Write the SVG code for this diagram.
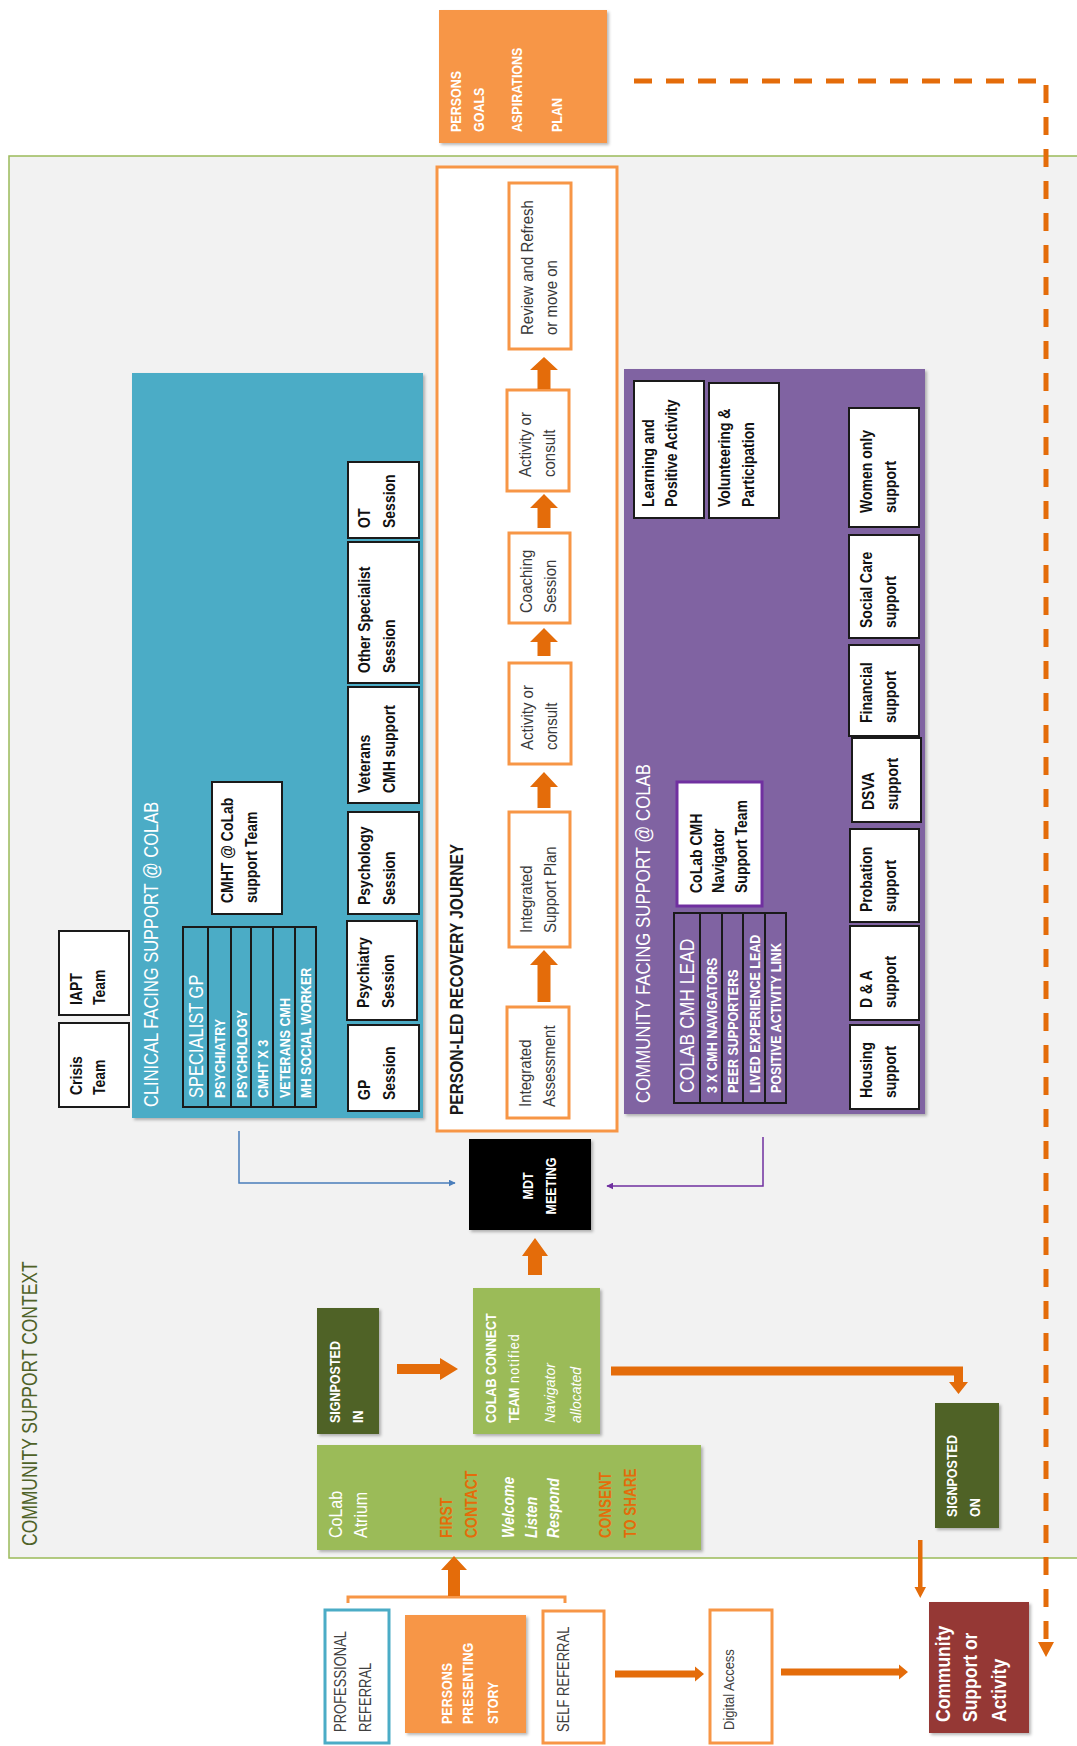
<svg xmlns="http://www.w3.org/2000/svg" width="1077" height="1746" viewBox="0 0 1077 1746">
<defs>
<filter id="sh" x="-10%" y="-10%" width="125%" height="125%">
<feDropShadow dx="2" dy="2" stdDeviation="1.8" flood-color="#000" flood-opacity="0.28"/>
</filter>
<marker id="mb" viewBox="0 0 10 10" refX="9" refY="5" markerWidth="7" markerHeight="7" markerUnits="userSpaceOnUse" orient="auto"><path d="M0,0 L10,5 L0,10 z" fill="#4a7ebb"/></marker>
<marker id="mp" viewBox="0 0 10 10" refX="9" refY="5" markerWidth="7" markerHeight="7" markerUnits="userSpaceOnUse" orient="auto"><path d="M0,0 L10,5 L0,10 z" fill="#7030a0"/></marker>
</defs>
<style>
text{font-family:"Liberation Sans",Arial,sans-serif}
.w{fill:#fff}
.b{font-weight:bold}
.i{font-style:italic}
.lbl{font-size:14px;font-weight:bold;fill:#111}
.rj{font-size:15px;fill:#3a3a3a}
.tb{font-size:12.5px;font-weight:bold;fill:#fff}
.bx{fill:#fff;stroke:#1a1a1a;stroke-width:2}
.ob{fill:#fff;stroke:#f79646;stroke-width:3}
.arr{fill:#e46c0a}
.ref{font-size:13px;fill:#404040}
</style>
<rect width="1077" height="1746" fill="#fff"/>

<g id="context">
<rect x="9" y="156" width="1090" height="1402" fill="#f2f2f2" stroke="#9bbb59" stroke-width="1.5"/>
<text transform="translate(37 1546) rotate(-90) scale(1 1.3)" font-size="17.5" fill="#4f6228">COMMUNITY SUPPORT CONTEXT</text>
</g>

<g id="goals">
<rect x="439" y="10" width="168" height="133" fill="#f79646" filter="url(#sh)"/>
<text class="tb" transform="translate(461 132) rotate(-90) scale(1 1.2)">PERSONS</text>
<text class="tb" transform="translate(484 132) rotate(-90) scale(1 1.2)">GOALS</text>
<text class="tb" transform="translate(522 132) rotate(-90) scale(1 1.2)">ASPIRATIONS</text>
<text class="tb" transform="translate(562 132) rotate(-90) scale(1 1.2)">PLAN</text>
</g>

<g id="clinical">
<rect x="132" y="373" width="291" height="745" fill="#4bacc6" filter="url(#sh)"/>
<text class="w" transform="translate(158 1107) rotate(-90) scale(1 1.2)" font-size="16.5">CLINICAL FACING SUPPORT @ COLAB</text>
<g id="specialist-gp">
<rect x="183" y="927" width="133" height="180" fill="none" stroke="#1a1a1a" stroke-width="2"/>
<path d="M208 927V1107M231 927V1107M251 927V1107M273 927V1107M295 927V1107" stroke="#1a1a1a" stroke-width="2"/>
<text class="w" transform="translate(202.5 1098) rotate(-90) scale(1 1.2)" font-size="16.5">SPECIALIST GP</text>
<text class="tb" transform="translate(224.5 1098) rotate(-90) scale(1 1.2)">PSYCHIATRY</text>
<text class="tb" transform="translate(246.5 1098) rotate(-90) scale(1 1.2)">PSYCHOLOGY</text>
<text class="tb" transform="translate(267.5 1098) rotate(-90) scale(1 1.2)">CMHT X 3</text>
<text class="tb" transform="translate(289.5 1098) rotate(-90) scale(1 1.2)">VETERANS  CMH</text>
<text class="tb" transform="translate(311 1098) rotate(-90) scale(1 1.2)">MH SOCIAL WORKER</text>
</g>
<g id="cmht">
<rect class="bx" x="212" y="782" width="70" height="132"/>
<text class="lbl" transform="translate(233 903) rotate(-90) scale(1 1.2)">CMHT @ CoLab</text>
<text class="lbl" transform="translate(257 903) rotate(-90) scale(1 1.2)">support Team</text>
</g>
<g id="ot"><rect class="bx" x="348" y="462" width="71" height="76"/>
<text class="lbl" transform="translate(370 528) rotate(-90) scale(1 1.2)">OT</text>
<text class="lbl" transform="translate(395 528) rotate(-90) scale(1 1.2)">Session</text></g>
<g id="other"><rect class="bx" x="348" y="542" width="71" height="141"/>
<text class="lbl" transform="translate(370 673) rotate(-90) scale(1 1.2)">Other Specialist</text>
<text class="lbl" transform="translate(395 673) rotate(-90) scale(1 1.2)">Session</text></g>
<g id="veterans"><rect class="bx" x="348" y="687" width="71" height="116"/>
<text class="lbl" transform="translate(370 793) rotate(-90) scale(1 1.2)">Veterans</text>
<text class="lbl" transform="translate(395 793) rotate(-90) scale(1 1.2)">CMH support</text></g>
<g id="psychology"><rect class="bx" x="348" y="812" width="71" height="102"/>
<text class="lbl" transform="translate(370 905) rotate(-90) scale(1 1.2)">Psychology</text>
<text class="lbl" transform="translate(395 905) rotate(-90) scale(1 1.2)">Session</text></g>
<g id="psychiatry"><rect class="bx" x="347" y="921" width="70" height="99"/>
<text class="lbl" transform="translate(369 1008) rotate(-90) scale(1 1.2)">Psychiatry</text>
<text class="lbl" transform="translate(394 1008) rotate(-90) scale(1 1.2)">Session</text></g>
<g id="gp"><rect class="bx" x="348" y="1025" width="71" height="86"/>
<text class="lbl" transform="translate(370 1100) rotate(-90) scale(1 1.2)">GP</text>
<text class="lbl" transform="translate(395 1100) rotate(-90) scale(1 1.2)">Session</text></g>
</g>

<g id="crisis"><rect class="bx" x="59" y="1023" width="70" height="84"/>
<text class="lbl" transform="translate(82 1095) rotate(-90) scale(1 1.2)">Crisis</text>
<text class="lbl" transform="translate(105 1095) rotate(-90) scale(1 1.2)">Team</text></g>
<g id="iapt"><rect class="bx" x="59" y="931" width="70" height="84"/>
<text class="lbl" transform="translate(82 1005) rotate(-90) scale(1 1.2)">IAPT</text>
<text class="lbl" transform="translate(105 1005) rotate(-90) scale(1 1.2)">Team</text></g>

<g id="recovery">
<rect x="437" y="167" width="180" height="964" fill="#fff" stroke="#f79646" stroke-width="3"/>
<text transform="translate(463 1115) rotate(-90) scale(1 1.2)" font-size="15.5" font-weight="bold" fill="#1a1a1a">PERSON-LED RECOVERY JOURNEY</text>
<g id="review"><rect class="ob" x="509" y="183" width="62" height="166"/>
<text class="rj" transform="translate(533 335) rotate(-90) scale(1 1.1)">Review and Refresh</text>
<text class="rj" transform="translate(557 335) rotate(-90) scale(1 1.1)">or move on</text></g>
<g id="activity1"><rect class="ob" x="507" y="390" width="62" height="101"/>
<text class="rj" transform="translate(531 477) rotate(-90) scale(1 1.1)">Activity or</text>
<text class="rj" transform="translate(555 477) rotate(-90) scale(1 1.1)">consult</text></g>
<g id="coaching"><rect class="ob" x="509" y="533" width="61" height="90"/>
<text class="rj" transform="translate(532 613) rotate(-90) scale(1 1.1)">Coaching</text>
<text class="rj" transform="translate(556 613) rotate(-90) scale(1 1.1)">Session</text></g>
<g id="activity2"><rect class="ob" x="509" y="663" width="62" height="101"/>
<text class="rj" transform="translate(533 750) rotate(-90) scale(1 1.1)">Activity or</text>
<text class="rj" transform="translate(557 750) rotate(-90) scale(1 1.1)">consult</text></g>
<g id="support-plan"><rect class="ob" x="509" y="812" width="61" height="135"/>
<text class="rj" transform="translate(532 933) rotate(-90) scale(1 1.1)">Integrated</text>
<text class="rj" transform="translate(556 933) rotate(-90) scale(1 1.1)">Support Plan</text></g>
<g id="assessment"><rect class="ob" x="507" y="1007" width="62" height="111"/>
<text class="rj" transform="translate(531 1107) rotate(-90) scale(1 1.1)">Integrated</text>
<text class="rj" transform="translate(555 1107) rotate(-90) scale(1 1.1)">Assessment</text></g>
</g>

<g id="community">
<rect x="624" y="369" width="301" height="745" fill="#8064a2" filter="url(#sh)"/>
<text class="w" transform="translate(650 1103) rotate(-90) scale(1 1.2)" font-size="16.8">COMMUNITY FACING SUPPORT @ COLAB</text>
<g id="learning"><rect class="bx" x="634" y="381" width="70" height="137"/>
<text class="lbl" transform="translate(654 507) rotate(-90) scale(1 1.2)">Learning and</text>
<text class="lbl" transform="translate(677 507) rotate(-90) scale(1 1.2)">Positive Activity</text></g>
<g id="volunteering"><rect class="bx" x="709" y="383" width="70" height="135"/>
<text class="lbl" transform="translate(730 507) rotate(-90) scale(1 1.2)">Volunteering &amp;</text>
<text class="lbl" transform="translate(754 507) rotate(-90) scale(1 1.2)">Participation</text></g>
<g id="women"><rect class="bx" x="849" y="408" width="70" height="119"/>
<text class="lbl" transform="translate(872 513) rotate(-90) scale(1 1.2)">Women only</text>
<text class="lbl" transform="translate(896 513) rotate(-90) scale(1 1.2)">support</text></g>
<g id="social"><rect class="bx" x="849" y="535" width="70" height="103"/>
<text class="lbl" transform="translate(872 628) rotate(-90) scale(1 1.2)">Social Care</text>
<text class="lbl" transform="translate(896 628) rotate(-90) scale(1 1.2)">support</text></g>
<g id="financial"><rect class="bx" x="849" y="645" width="70" height="91"/>
<text class="lbl" transform="translate(872 723) rotate(-90) scale(1 1.2)">Financial</text>
<text class="lbl" transform="translate(896 723) rotate(-90) scale(1 1.2)">support</text></g>
<g id="dsva"><rect class="bx" x="852" y="738" width="69" height="84"/>
<text class="lbl" transform="translate(874 810) rotate(-90) scale(1 1.2)">DSVA</text>
<text class="lbl" transform="translate(898 810) rotate(-90) scale(1 1.2)">support</text></g>
<g id="probation"><rect class="bx" x="850" y="829" width="69" height="93"/>
<text class="lbl" transform="translate(872 912) rotate(-90) scale(1 1.2)">Probation</text>
<text class="lbl" transform="translate(896 912) rotate(-90) scale(1 1.2)">support</text></g>
<g id="da"><rect class="bx" x="850" y="926" width="69" height="94"/>
<text class="lbl" transform="translate(872 1008) rotate(-90) scale(1 1.2)">D &amp; A</text>
<text class="lbl" transform="translate(896 1008) rotate(-90) scale(1 1.2)">support</text></g>
<g id="housing"><rect class="bx" x="850" y="1025" width="69" height="84"/>
<text class="lbl" transform="translate(872 1098) rotate(-90) scale(1 1.2)">Housing</text>
<text class="lbl" transform="translate(896 1098) rotate(-90) scale(1 1.2)">support</text></g>
<g id="navigator-team"><rect x="677" y="782" width="85" height="124" fill="#fff" stroke="#7030a0" stroke-width="3"/>
<text class="lbl" transform="translate(702 893) rotate(-90) scale(1 1.2)">CoLab CMH</text>
<text class="lbl" transform="translate(724 893) rotate(-90) scale(1 1.2)">Navigator</text>
<text class="lbl" transform="translate(747 893) rotate(-90) scale(1 1.2)">Support Team</text></g>
<g id="cmh-lead">
<rect x="674" y="913" width="112" height="190" fill="none" stroke="#1a1a1a" stroke-width="2"/>
<path d="M700 913V1103M722 913V1103M743 913V1103M765 913V1103" stroke="#1a1a1a" stroke-width="2"/>
<text class="w" transform="translate(694 1093) rotate(-90) scale(1 1.2)" font-size="17.5">COLAB CMH LEAD</text>
<text class="tb" transform="translate(716.5 1093) rotate(-90) scale(1 1.2)">3 X CMH NAVIGATORS</text>
<text class="tb" transform="translate(737.5 1093) rotate(-90) scale(1 1.2)">PEER  SUPPORTERS</text>
<text class="tb" transform="translate(759.5 1093) rotate(-90) scale(1 1.2)">LIVED  EXPERIENCE  LEAD</text>
<text class="tb" transform="translate(780.5 1093) rotate(-90) scale(1 1.2)">POSITIVE  ACTIVITY  LINK</text>
</g>
</g>

<g id="mdt">
<rect x="469" y="1139" width="122" height="91" fill="#000" filter="url(#sh)"/>
<text class="tb" font-size="13.5" text-anchor="middle" transform="translate(533 1186) rotate(-90) scale(1 1.2)">MDT</text>
<text class="tb" font-size="13.5" text-anchor="middle" transform="translate(556 1186) rotate(-90) scale(1 1.2)">MEETING</text>
</g>

<g id="signposted-in">
<rect x="317" y="1308" width="62" height="126" fill="#4f6228" filter="url(#sh)"/>
<text class="tb" font-size="13" transform="translate(340 1423) rotate(-90) scale(1 1.2)">SIGNPOSTED</text>
<text class="tb" font-size="13" transform="translate(363 1423) rotate(-90) scale(1 1.2)">IN</text>
</g>

<g id="colab-connect">
<rect x="473" y="1288" width="127" height="146" fill="#9bbb59" filter="url(#sh)"/>
<text class="tb" font-size="12" transform="translate(496 1423) rotate(-90) scale(1 1.2)">COLAB  CONNECT</text>
<text class="w" font-size="12.5" transform="translate(519 1423) rotate(-90) scale(1 1.2)"><tspan font-weight="bold">TEAM</tspan><tspan letter-spacing="1.2"> notified</tspan></text>
<text class="w i" font-size="14" transform="translate(555 1423) rotate(-90) scale(1 1.1)">Navigator</text>
<text class="w i" font-size="14" transform="translate(581 1423) rotate(-90) scale(1 1.1)">allocated</text>
</g>

<g id="atrium">
<rect x="317" y="1445" width="384" height="105" fill="#9bbb59" filter="url(#sh)"/>
<text class="w" font-size="16" transform="translate(342 1538) rotate(-90) scale(1 1.2)">CoLab</text>
<text class="w" font-size="16" transform="translate(367 1538) rotate(-90) scale(1 1.2)">Atrium</text>
<text class="b" font-size="14" fill="#e46c0a" transform="translate(452 1538) rotate(-90) scale(1 1.2)">FIRST</text>
<text class="b" font-size="14" fill="#e46c0a" transform="translate(477 1538) rotate(-90) scale(1 1.2)">CONTACT</text>
<text class="w b i" font-size="14" transform="translate(514 1538) rotate(-90) scale(1 1.2)">Welcome</text>
<text class="w b i" font-size="14" transform="translate(537 1538) rotate(-90) scale(1 1.2)">Listen</text>
<text class="w b i" font-size="14" transform="translate(559 1538) rotate(-90) scale(1 1.2)">Respond</text>
<text class="b" font-size="13.5" fill="#e46c0a" transform="translate(611 1538) rotate(-90) scale(1 1.2)">CONSENT</text>
<text class="b" font-size="13.5" fill="#e46c0a" transform="translate(636 1538) rotate(-90) scale(1 1.2)">TO SHARE</text>
</g>

<g id="signposted-on">
<rect x="935" y="1403" width="64" height="125" fill="#4f6228" filter="url(#sh)"/>
<text class="tb" font-size="13" transform="translate(957 1517) rotate(-90) scale(1 1.2)">SIGNPOSTED</text>
<text class="tb" font-size="13" transform="translate(980 1517) rotate(-90) scale(1 1.2)">ON</text>
</g>

<g id="community-activity">
<rect x="929" y="1602" width="100" height="131" fill="#953735" filter="url(#sh)"/>
<text class="w b" font-size="17.5" transform="translate(950 1722) rotate(-90) scale(1 1.15)">Community</text>
<text class="w b" font-size="17.5" transform="translate(977 1722) rotate(-90) scale(1 1.15)">Support or</text>
<text class="w b" font-size="17.5" transform="translate(1006 1722) rotate(-90) scale(1 1.15)">Activity</text>
</g>

<g id="professional-referral">
<rect x="325" y="1610" width="64" height="133" fill="#fff" stroke="#4bacc6" stroke-width="3"/>
<text class="ref" transform="translate(346 1732) rotate(-90) scale(1 1.2)">PROFESSIONAL</text>
<text class="ref" transform="translate(371 1732) rotate(-90) scale(1 1.2)">REFERRAL</text>
</g>
<g id="presenting-story">
<rect x="405" y="1615" width="121" height="118" fill="#f79646" filter="url(#sh)"/>
<text class="tb" font-size="13" transform="translate(452 1724) rotate(-90) scale(1 1.2)">PERSONS</text>
<text class="tb" font-size="13" transform="translate(473 1724) rotate(-90) scale(1 1.2)">PRESENTING</text>
<text class="tb" font-size="13" transform="translate(498 1724) rotate(-90) scale(1 1.2)">STORY</text>
</g>
<g id="self-referral">
<rect class="ob" x="543" y="1611" width="61" height="132"/>
<text class="ref" transform="translate(569 1732) rotate(-90) scale(1 1.2)">SELF REFERRAL</text>
</g>
<g id="digital-access">
<rect class="ob" x="710" y="1610" width="62" height="133"/>
<text class="ref" font-size="14.5" transform="translate(734 1730) rotate(-90) scale(1 1.1)">Digital Access</text>
</g>

<g id="connectors">
<path d="M634 81H1046V1642" fill="none" stroke="#e46c0a" stroke-width="5" stroke-dasharray="18 14"/>
<polygon class="arr" points="1038,1642 1054,1642 1046,1657"/>
<polygon class="arr" points="544,950 558,965 550.5,965 550.5,1002 537.5,1002 537.5,965 530,965"/>
<polygon class="arr" points="544,772 558,787 550.5,787 550.5,808 537.5,808 537.5,787 530,787"/>
<polygon class="arr" points="544,628 558,642 550.5,642 550.5,656 537.5,656 537.5,642 530,642"/>
<polygon class="arr" points="544,494 558,508 550.5,508 550.5,528 537.5,528 537.5,508 530,508"/>
<polygon class="arr" points="544,357 558,370 550.5,370 550.5,389 537.5,389 537.5,370 530,370"/>
<path d="M239 1131V1183H455" fill="none" stroke="#4a7ebb" stroke-width="1.5" marker-end="url(#mb)"/>
<path d="M763 1137V1186H607" fill="none" stroke="#7030a0" stroke-width="1.5" marker-end="url(#mp)"/>
<polygon class="arr" points="535,1238 548,1256 542,1256 542,1275 528,1275 528,1256 522,1256"/>
<polygon class="arr" points="397,1364 440,1364 440,1358 458,1369 440,1380 440,1374 397,1374"/>
<polygon class="arr" points="611,1366.5 963,1366.5 963,1382 968,1382 958.5,1394 949,1382 954,1382 954,1375.5 611,1375.5"/>
<polygon class="arr" points="918,1540 922.5,1540 922.5,1587 926,1587 920.25,1598 914.5,1587 918,1587"/>
<path d="M348 1603V1597H565V1603" fill="none" stroke="#f79646" stroke-width="3"/>
<polygon class="arr" points="454,1556 467,1570 460,1570 460,1596 448,1596 448,1570 441,1570"/>
<polygon class="arr" points="615,1670.5 695,1670.5 695,1666.5 704,1674 695,1681.5 695,1677.5 615,1677.5"/>
<polygon class="arr" points="781,1668.5 899,1668.5 899,1664.5 908,1672 899,1679.5 899,1675.5 781,1675.5"/>
</g>
</svg>
